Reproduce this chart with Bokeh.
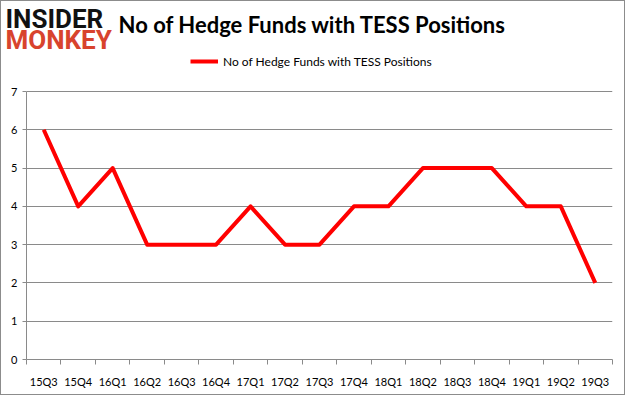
from bokeh.plotting import figure
from bokeh.models import FixedTicker, Legend, LegendItem, Label, Range1d
from bokeh.layouts import column
from bokeh.embed import file_html
from bokeh.resources import INLINE

quarters = ["15Q3", "15Q4", "16Q1", "16Q2", "16Q3", "16Q4", "17Q1", "17Q2", "17Q3",
            "17Q4", "18Q1", "18Q2", "18Q3", "18Q4", "19Q1", "19Q2", "19Q3"]
funds = [6, 4, 5, 3, 3, 3, 4, 3, 3, 4, 4, 5, 5, 5, 4, 4, 2]
y_ticks = [0, 1, 2, 3, 4, 5, 6, 7]
series_name = "No of Hedge Funds with TESS Positions"
title_text = "No of Hedge Funds with TESS Positions"
logo_top = "INSIDER"
logo_bottom = "MONKEY"

W = 623
HEAD_H = 50
MAIN_H = 343

# ---- header strip: logo + title ----
head = figure(width=W, height=HEAD_H, output_backend="svg", toolbar_location=None,
              x_range=Range1d(0, W), y_range=Range1d(0, HEAD_H),
              x_axis_type=None, y_axis_type=None,
              min_border_left=0, min_border_right=0, min_border_top=0,
              min_border_bottom=0, border_fill_color="white")
head.frame_align = False
head.title.text = ""
head.title.text_font_size = "0px"
head.title.standoff = 0
head.title.visible = False
head.outline_line_color = None
head.xgrid.visible = False
head.ygrid.visible = False

head.add_layout(Label(x=4, y=32.5, text=logo_top, text_font="Roboto",
                      text_font_style="bold", text_font_size="26px",
                      text_color="#111111", text_baseline="alphabetic"))
head.add_layout(Label(x=4, y=12, text=logo_bottom, text_font="Roboto",
                      text_font_style="bold", text_font_size="26px",
                      text_color="#d8432d", text_baseline="alphabetic"))
head.add_layout(Label(x=311, y=27, text=title_text, text_font="Lato",
                      text_font_style="bold", text_font_size="22px",
                      text_color="#000000", text_align="center",
                      text_baseline="alphabetic"))

# ---- main chart ----
xs = list(range(len(quarters)))
n = len(quarters)
y_top = y_ticks[-1] * 308 / 268  # headroom above the top tick holds the legend

p = figure(width=W, height=MAIN_H, output_backend="svg", toolbar_location=None,
           x_range=Range1d(-0.5, n - 0.5), y_range=Range1d(0, y_top),
           min_border_left=25, min_border_right=12, min_border_top=0,
           min_border_bottom=35, background_fill_color="white",
           border_fill_color="white")
p.frame_align = False
p.outline_line_color = None

r = p.line(xs, funds, line_color="#ff0000", line_width=4, line_join="round")

legend = Legend(items=[LegendItem(label=series_name, renderers=[r])],
                orientation="horizontal", location=(164, 288),
                border_line_color=None, background_fill_alpha=0,
                padding=0, margin=0,
                label_text_font="Lato", label_text_font_size="12px",
                label_text_color="#000000", glyph_width=28)
p.add_layout(legend)

p.xaxis.ticker = FixedTicker(ticks=xs, minor_ticks=[i - 0.5 for i in range(n + 1)])
p.xaxis.major_label_overrides = {i: q for i, q in zip(xs, quarters)}
p.xaxis.major_tick_out = 0
p.xaxis.major_tick_in = 0
p.xaxis.minor_tick_out = 5
p.xaxis.minor_tick_in = 0
p.xaxis.minor_tick_line_color = "#8a8a8a"
p.xaxis.axis_line_color = "#8a8a8a"
p.xaxis.major_label_text_font = "Lato"
p.xaxis.major_label_text_font_size = "11px"
p.xaxis.major_label_text_color = "#000000"
p.xaxis.major_label_standoff = 10

p.yaxis.ticker = FixedTicker(ticks=y_ticks, minor_ticks=[])
p.yaxis.bounds = (y_ticks[0], y_ticks[-1])
p.yaxis.major_tick_out = 4
p.yaxis.major_tick_in = 0
p.yaxis.major_tick_line_color = "#8a8a8a"
p.yaxis.axis_line_color = "#8a8a8a"
p.yaxis.major_label_text_font = "Lato"
p.yaxis.major_label_text_font_size = "11px"
p.yaxis.major_label_text_color = "#000000"
p.yaxis.major_label_standoff = 5

p.xgrid.grid_line_color = None
p.ygrid.ticker = FixedTicker(ticks=y_ticks)
p.ygrid.grid_line_color = "#8a8a8a"
p.ygrid.grid_line_width = 1

page = column(head, p, spacing=0, styles={"border": "1px solid #8c8c8c"})

open("out.html", "w").write(file_html(page, INLINE))
